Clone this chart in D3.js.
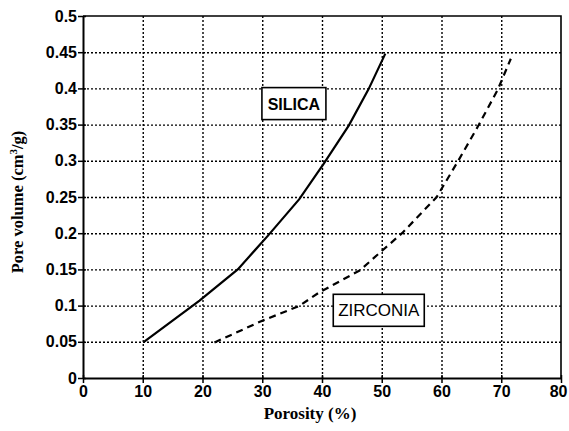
<!DOCTYPE html>
<html>
<head>
<meta charset="utf-8">
<script src="https://cdn.jsdelivr.net/npm/d3@7"></script>
<style>
  body { margin: 0; background: #fff; }
  svg { display: block; }
</style>
</head>
<body>
<svg id="chart" width="569" height="431"></svg>
<script>
// ---- data ----
const silicaX = [10.2, 19.5, 25.9, 31.0, 36.2, 40.3, 44.5, 47.8, 50.6];
const silicaY = [0.05, 0.107, 0.15, 0.197, 0.247, 0.296, 0.349, 0.399, 0.448];
const zirconiaX = [22.0, 29.7, 36.2, 39.5, 46.4, 49.8, 53.4, 59.2, 62.8, 66.2, 69.4, 71.6];
const zirconiaY = [0.049, 0.078, 0.0996, 0.118, 0.149, 0.174, 0.2, 0.25, 0.3, 0.349, 0.398, 0.441];
const xTicks = [0, 10, 20, 30, 40, 50, 60, 70, 80];
const yTicks = [0, 0.05, 0.1, 0.15, 0.2, 0.25, 0.3, 0.35, 0.4, 0.45, 0.5];
const seriesLabels = ["SILICA", "ZIRCONIA"];
const labelX = [35.3, 49.5];
const labelY = [0.379, 0.0935];

const svg = d3.select("#chart");
const W = 569, H = 431;
const m = { left: 83, top: 16, right: 8, bottom: 53 };
const x = d3.scaleLinear().domain([0, 80]).range([m.left, W - m.right]);
const y = d3.scaleLinear().domain([0, 0.5]).range([H - m.bottom, m.top]);

const tickFont = "Liberation Sans, Arial, Helvetica, sans-serif";
const titleFont = "Liberation Serif, Times New Roman, serif";

// grid via axes
const gx = svg.append("g").attr("class", "gridx").attr("transform", `translate(0,${y(0)})`)
  .call(d3.axisBottom(x).tickValues(xTicks.slice(1, -1)).tickSize(-(y(0) - y(0.5))).tickFormat(""));
const gy = svg.append("g").attr("class", "gridy").attr("transform", `translate(${x(0)},0)`)
  .call(d3.axisLeft(y).tickValues(yTicks.slice(1, -1)).tickSize(-(x(80) - x(0))).tickFormat(""));
[gx, gy].forEach(a => {
  a.select(".domain").remove();
  a.selectAll(".tick line").style("stroke", "#000").style("stroke-width", "1.4px").style("stroke-dasharray", "2,2");
});

// frame
svg.append("path")
  .attr("d", `M${x(0)},${y(0.5)}H${x(80)}V${y(0)}`)
  .style("fill", "none").style("stroke", "#000").style("stroke-width", "1.6px");

// axes
const xAxis = svg.append("g").attr("transform", `translate(0,${y(0)})`)
  .call(d3.axisBottom(x).tickValues(xTicks).tickFormat(d3.format("d")).tickSizeInner(5).tickSizeOuter(0).tickPadding(3));
const yAxis = svg.append("g").attr("transform", `translate(${x(0)},0)`)
  .call(d3.axisLeft(y).tickValues(yTicks).tickFormat(d => String(d)).tickSizeInner(5).tickSizeOuter(0).tickPadding(1));
[xAxis, yAxis].forEach(a => {
  a.select(".domain").style("stroke", "#000").style("stroke-width", "2px");
  a.selectAll(".tick line").style("stroke", "#000").style("stroke-width", "1.5px");
  a.selectAll(".tick text").style("fill", "#000")
    .style("font-family", tickFont).style("font-size", "16px").style("font-weight", "bold");
});
xAxis.selectAll(".tick").append("line").attr("y1", 0).attr("y2", -3).style("stroke", "#000").style("stroke-width", "1.5px");
yAxis.selectAll(".tick").append("line").attr("x1", 0).attr("x2", 3).style("stroke", "#000").style("stroke-width", "1.5px");
// the last x tick label sits at the right edge as in the reference
xAxis.selectAll(".tick text").filter(d => d === 80).attr("text-anchor", "end").attr("dx", "6");

// lines
const silica = silicaX.map((d, i) => [d, silicaY[i]]);
const zirconia = zirconiaX.map((d, i) => [d, zirconiaY[i]]);
const line = d3.line().x(d => x(d[0])).y(d => y(d[1]));
svg.append("path").attr("d", line(silica))
  .style("fill", "none").style("stroke", "#000").style("stroke-width", "2.2px");
svg.append("path").attr("d", line(zirconia))
  .style("fill", "none").style("stroke", "#000").style("stroke-width", "2.2px").style("stroke-dasharray", "7,5");

// series labels in boxes
const boxW = [64, 91], boxH = [32, 32];
seriesLabels.forEach((lab, i) => {
  const cx = x(labelX[i]), cy = y(labelY[i]);
  svg.append("rect")
    .attr("x", cx - boxW[i] / 2).attr("y", cy - boxH[i] / 2).attr("width", boxW[i]).attr("height", boxH[i])
    .style("fill", "#fff").style("stroke", "#000").style("stroke-width", "1.6px");
  svg.append("text").attr("x", cx).attr("y", cy + 6)
    .attr("text-anchor", "middle")
    .style("font-family", tickFont).style("font-size", i === 0 ? "16px" : "17px")
    .style("font-weight", i === 0 ? "bold" : "normal")
    .text(lab);
});

// axis titles
svg.append("text").attr("x", 310).attr("y", 419)
  .attr("text-anchor", "middle")
  .style("font-family", titleFont).style("font-size", "17px").style("font-weight", "bold")
  .text("Porosity (%)");
const yt = svg.append("text").attr("transform", `translate(23,202) rotate(-90)`)
  .attr("text-anchor", "middle")
  .style("font-family", titleFont).style("font-size", "16.5px").style("font-weight", "bold");
yt.append("tspan").text("Pore volume (cm");
yt.append("tspan").attr("dy", -6).style("font-size", "11px").text("3");
yt.append("tspan").attr("dy", 6).text("/g)");
</script>
</body>
</html>
